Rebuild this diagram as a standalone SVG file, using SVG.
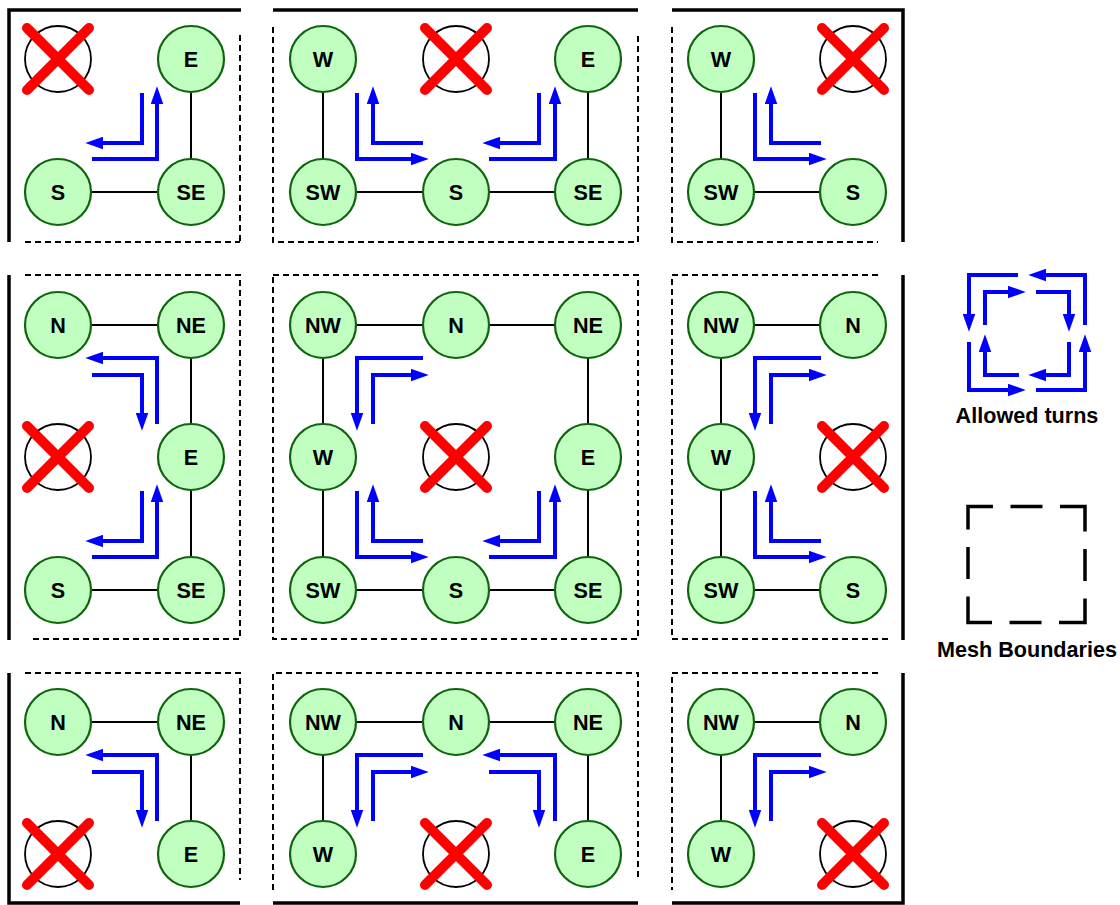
<svg xmlns="http://www.w3.org/2000/svg" width="1120" height="905" viewBox="0 0 1120 905">
<style>
.node circle{fill:#c1ffc1;stroke:#0e650e;stroke-width:2.2}
.node text,.lbl{font-family:"Liberation Sans",Arial,sans-serif;font-weight:bold;font-size:21.6px;text-anchor:middle;fill:#000}
.edge{stroke:#000;stroke-width:2;fill:none}
.turn{stroke:#0000ff;stroke-width:4;fill:none;marker-end:url(#ah)}
.solid{stroke:#000;stroke-width:3.5;fill:none}
.dash{stroke:#000;stroke-width:2;stroke-dasharray:6 4;fill:none}
</style>
<defs>
<marker id="ah" markerUnits="userSpaceOnUse" markerWidth="18" markerHeight="13" viewBox="0 0 17 12" refX="5" refY="6" orient="auto">
<path d="M0,0 L17,6 L0,12 z" fill="#0000ff"/>
</marker>
<g id="x"><circle cx="0" cy="0" r="33" fill="#fff" stroke="#000" stroke-width="1.8"/><path d="M-31,-31 L31,31 M31,-31 L-31,31" stroke="#ff0000" stroke-width="10" stroke-linecap="round" fill="none"/></g>
</defs>
<rect width="1120" height="905" fill="#fff"/>

<g id="boundaries">
<path class="solid" d="M9,242 V10 H241"/>
<path class="dash" d="M240,35 V242 M25,242 H240"/>
<path class="solid" d="M273,10 H638"/>
<path class="dash" d="M273,27 V242 H638 V35"/>
<path class="solid" d="M672,10 H903 V242"/>
<path class="dash" d="M672,27 V242 H878"/>
<path class="solid" d="M9,275 V640"/>
<path class="dash" d="M25,275 H240 V639 H33"/>
<path class="dash" d="M273,275 H638 V639 H273 Z"/>
<path class="solid" d="M903,275 V640"/>
<path class="dash" d="M878,275 H672 V639 H890"/>
<path class="solid" d="M9,673 V903 H240"/>
<path class="dash" d="M25,673 H240 V880"/>
<path class="solid" d="M273,903 H638"/>
<path class="dash" d="M273,890 V673 H638 V880"/>
<path class="solid" d="M672,903 H903 V673"/>
<path class="dash" d="M878,673 H672 V890"/>
</g>

<g id="edges">
<path class="edge" d="M58,192 H191 V59"/>
<path class="edge" d="M323,59 V192 H588 V59"/>
<path class="edge" d="M721,59 V192 H853"/>
<path class="edge" d="M58,325 H191 V590 H58"/>
<path class="edge" d="M323,325 H588 V590 H323 Z"/>
<path class="edge" d="M853,325 H721 V590 H853"/>
<path class="edge" d="M58,722 H191 V854"/>
<path class="edge" d="M323,854 V722 H588 V854"/>
<path class="edge" d="M853,722 H721 V854"/>
</g>

<g id="turns">
<path class="turn" d="M142,93 V143 H98"/>
<path class="turn" d="M92,159 H157 V99"/>
<path class="turn" d="M357,93 V159 H416"/>
<path class="turn" d="M423,143 H373 V99"/>
<path class="turn" d="M539,93 V143 H495"/>
<path class="turn" d="M489,159 H555 V99"/>
<path class="turn" d="M755,93 V159 H814"/>
<path class="turn" d="M821,143 H771 V99"/>
<path class="turn" d="M157,424 V358 H98"/>
<path class="turn" d="M92,375 H142 V418"/>
<path class="turn" d="M142,491 V541 H98"/>
<path class="turn" d="M92,557 H157 V497"/>
<path class="turn" d="M423,358 H357 V418"/>
<path class="turn" d="M373,424 V375 H416"/>
<path class="turn" d="M357,491 V557 H416"/>
<path class="turn" d="M423,541 H373 V497"/>
<path class="turn" d="M539,491 V541 H495"/>
<path class="turn" d="M489,557 H555 V497"/>
<path class="turn" d="M821,358 H755 V418"/>
<path class="turn" d="M771,424 V375 H814"/>
<path class="turn" d="M755,491 V557 H814"/>
<path class="turn" d="M821,541 H771 V497"/>
<path class="turn" d="M157,821 V755 H98"/>
<path class="turn" d="M92,772 H142 V815"/>
<path class="turn" d="M423,755 H357 V815"/>
<path class="turn" d="M373,821 V772 H416"/>
<path class="turn" d="M555,821 V755 H495"/>
<path class="turn" d="M489,772 H539 V815"/>
<path class="turn" d="M821,755 H755 V815"/>
<path class="turn" d="M771,821 V772 H814"/>
</g>

<g id="dead-nodes">
<use href="#x" x="58" y="59"/>
<use href="#x" x="456" y="59"/>
<use href="#x" x="853" y="59"/>
<use href="#x" x="58" y="457"/>
<use href="#x" x="456" y="457"/>
<use href="#x" x="853" y="457"/>
<use href="#x" x="58" y="854"/>
<use href="#x" x="456" y="854"/>
<use href="#x" x="853" y="854"/>
</g>

<g id="p1-E" class="node"><circle cx="191" cy="59" r="33"/><text x="191" y="66.5">E</text></g>
<g id="p1-S" class="node"><circle cx="58" cy="192" r="33"/><text x="58" y="199.5">S</text></g>
<g id="p1-SE" class="node"><circle cx="191" cy="192" r="33"/><text x="191" y="199.5">SE</text></g>

<g id="p2-W" class="node"><circle cx="323" cy="59" r="33"/><text x="323" y="66.5">W</text></g>
<g id="p2-E" class="node"><circle cx="588" cy="59" r="33"/><text x="588" y="66.5">E</text></g>
<g id="p2-SW" class="node"><circle cx="323" cy="192" r="33"/><text x="323" y="199.5">SW</text></g>
<g id="p2-S" class="node"><circle cx="456" cy="192" r="33"/><text x="456" y="199.5">S</text></g>
<g id="p2-SE" class="node"><circle cx="588" cy="192" r="33"/><text x="588" y="199.5">SE</text></g>

<g id="p3-W" class="node"><circle cx="721" cy="59" r="33"/><text x="721" y="66.5">W</text></g>
<g id="p3-SW" class="node"><circle cx="721" cy="192" r="33"/><text x="721" y="199.5">SW</text></g>
<g id="p3-S" class="node"><circle cx="853" cy="192" r="33"/><text x="853" y="199.5">S</text></g>

<g id="p4-N" class="node"><circle cx="58" cy="325" r="33"/><text x="58" y="332.5">N</text></g>
<g id="p4-NE" class="node"><circle cx="191" cy="325" r="33"/><text x="191" y="332.5">NE</text></g>
<g id="p4-E" class="node"><circle cx="191" cy="457" r="33"/><text x="191" y="464.5">E</text></g>
<g id="p4-S" class="node"><circle cx="58" cy="590" r="33"/><text x="58" y="597.5">S</text></g>
<g id="p4-SE" class="node"><circle cx="191" cy="590" r="33"/><text x="191" y="597.5">SE</text></g>

<g id="p5-NW" class="node"><circle cx="323" cy="325" r="33"/><text x="323" y="332.5">NW</text></g>
<g id="p5-N" class="node"><circle cx="456" cy="325" r="33"/><text x="456" y="332.5">N</text></g>
<g id="p5-NE" class="node"><circle cx="588" cy="325" r="33"/><text x="588" y="332.5">NE</text></g>
<g id="p5-W" class="node"><circle cx="323" cy="457" r="33"/><text x="323" y="464.5">W</text></g>
<g id="p5-E" class="node"><circle cx="588" cy="457" r="33"/><text x="588" y="464.5">E</text></g>
<g id="p5-SW" class="node"><circle cx="323" cy="590" r="33"/><text x="323" y="597.5">SW</text></g>
<g id="p5-S" class="node"><circle cx="456" cy="590" r="33"/><text x="456" y="597.5">S</text></g>
<g id="p5-SE" class="node"><circle cx="588" cy="590" r="33"/><text x="588" y="597.5">SE</text></g>

<g id="p6-NW" class="node"><circle cx="721" cy="325" r="33"/><text x="721" y="332.5">NW</text></g>
<g id="p6-N" class="node"><circle cx="853" cy="325" r="33"/><text x="853" y="332.5">N</text></g>
<g id="p6-W" class="node"><circle cx="721" cy="457" r="33"/><text x="721" y="464.5">W</text></g>
<g id="p6-SW" class="node"><circle cx="721" cy="590" r="33"/><text x="721" y="597.5">SW</text></g>
<g id="p6-S" class="node"><circle cx="853" cy="590" r="33"/><text x="853" y="597.5">S</text></g>

<g id="p7-N" class="node"><circle cx="58" cy="722" r="33"/><text x="58" y="729.5">N</text></g>
<g id="p7-NE" class="node"><circle cx="191" cy="722" r="33"/><text x="191" y="729.5">NE</text></g>
<g id="p7-E" class="node"><circle cx="191" cy="854" r="33"/><text x="191" y="861.5">E</text></g>

<g id="p8-NW" class="node"><circle cx="323" cy="722" r="33"/><text x="323" y="729.5">NW</text></g>
<g id="p8-N" class="node"><circle cx="456" cy="722" r="33"/><text x="456" y="729.5">N</text></g>
<g id="p8-NE" class="node"><circle cx="588" cy="722" r="33"/><text x="588" y="729.5">NE</text></g>
<g id="p8-W" class="node"><circle cx="323" cy="854" r="33"/><text x="323" y="861.5">W</text></g>
<g id="p8-E" class="node"><circle cx="588" cy="854" r="33"/><text x="588" y="861.5">E</text></g>

<g id="p9-NW" class="node"><circle cx="721" cy="722" r="33"/><text x="721" y="729.5">NW</text></g>
<g id="p9-N" class="node"><circle cx="853" cy="722" r="33"/><text x="853" y="729.5">N</text></g>
<g id="p9-W" class="node"><circle cx="721" cy="854" r="33"/><text x="721" y="861.5">W</text></g>

<g id="legend-turns">
<path class="turn" d="M1018,275 H969 V319"/>
<path class="turn" d="M1085,325 V275 H1041"/>
<path class="turn" d="M1036,390 H1085 V347"/>
<path class="turn" d="M969,342 V390 H1013"/>
<path class="turn" d="M985,325 V292 H1013"/>
<path class="turn" d="M1036,292 H1069 V319"/>
<path class="turn" d="M1069,342 V375 H1041"/>
<path class="turn" d="M1019,375 H985 V347"/>
<text class="lbl" x="1027" y="423">Allowed turns</text>
</g>

<g id="legend-boundaries">
<rect x="968" y="506.5" width="117" height="116" fill="none" stroke="#000" stroke-width="3.5" stroke-dasharray="50 17.5 32 17.5" stroke-dashoffset="25"/>
<text class="lbl" x="1027" y="657">Mesh Boundaries</text>
</g>
</svg>
